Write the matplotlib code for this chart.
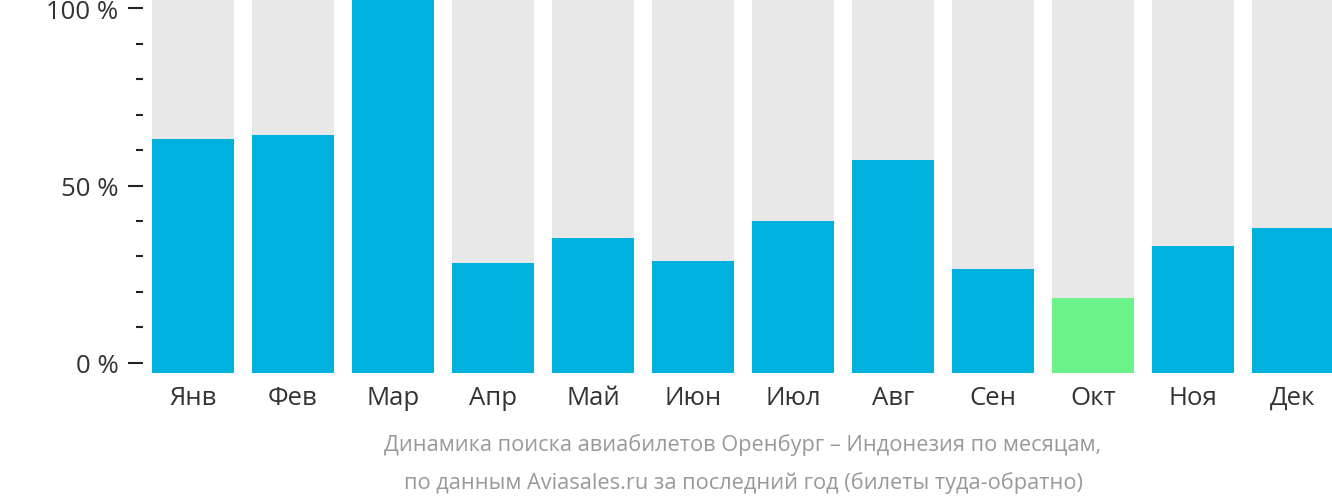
import matplotlib
matplotlib.use("Agg")
import matplotlib.pyplot as plt
from matplotlib.ticker import MultipleLocator, FuncFormatter

plt.rcParams['font.family'] = ['Open Sans', 'DejaVu Sans']

months = ["Янв", "Фев", "Мар", "Апр", "Май", "Июн",
          "Июл", "Авг", "Сен", "Окт", "Ноя", "Дек"]
# share of searches relative to the busiest month, %
values = [62.6, 63.6, 100.0, 29.4, 36.1, 29.9, 40.6, 57.0, 27.8, 20.1, 34.0, 38.8]
highlight = "Окт"

caption = ("Динамика поиска авиабилетов Оренбург – Индонезия по месяцам,\n"
           "по данным Aviasales.ru за последний год (билеты туда-обратно)")

blue = "#00b1dd"
green = "#6cf28a"
grey = "#e8e8e8"

W, H = 1332, 502
fig = plt.figure(figsize=(W / 100, H / 100), dpi=100)
ax = fig.add_axes([143 / W, (H - 374) / H, 1 - 143 / W, 374 / H])

x = list(range(len(months)))
colors = [green if m == highlight else blue for m in months]
ax.bar(x, [100] * len(x), width=0.82, color=grey, zorder=1)
ax.bar(x, values, width=0.82, color=colors, zorder=2)

ax.set_xlim(-0.5, 11.39)
ax.set_ylim(0, 100)
ax.set_xticks(x)
ax.set_xticklabels(months, fontsize=18.5, color="#333333")
ax.tick_params(axis="x", length=0, pad=8.5)
ax.set_yticks([])
for s in ax.spines.values():
    s.set_visible(False)

# percent axis (slightly offset from bar baseline, as in the original)
ay = ax.twinx()
ay.set_ylim(-2.82, 102.54)
ay.yaxis.tick_left()
ay.yaxis.set_major_locator(MultipleLocator(50))
ay.yaxis.set_minor_locator(MultipleLocator(10))
ay.yaxis.set_major_formatter(FuncFormatter(lambda v, p: "%d %%" % v))
ay.tick_params(axis="y", which="major", length=10.8, width=1.5, color="#222222",
               labelsize=18.5, labelcolor="#333333", pad=7)
ay.tick_params(axis="y", which="minor", length=5, width=1.5, color="#222222")
for s in ay.spines.values():
    s.set_visible(False)

fig.text(743 / W, 1 - 464 / H, caption, ha="center", va="center",
         fontsize=15.7, color="#999999", linespacing=2.0)

fig.savefig("out.png", dpi=100)
